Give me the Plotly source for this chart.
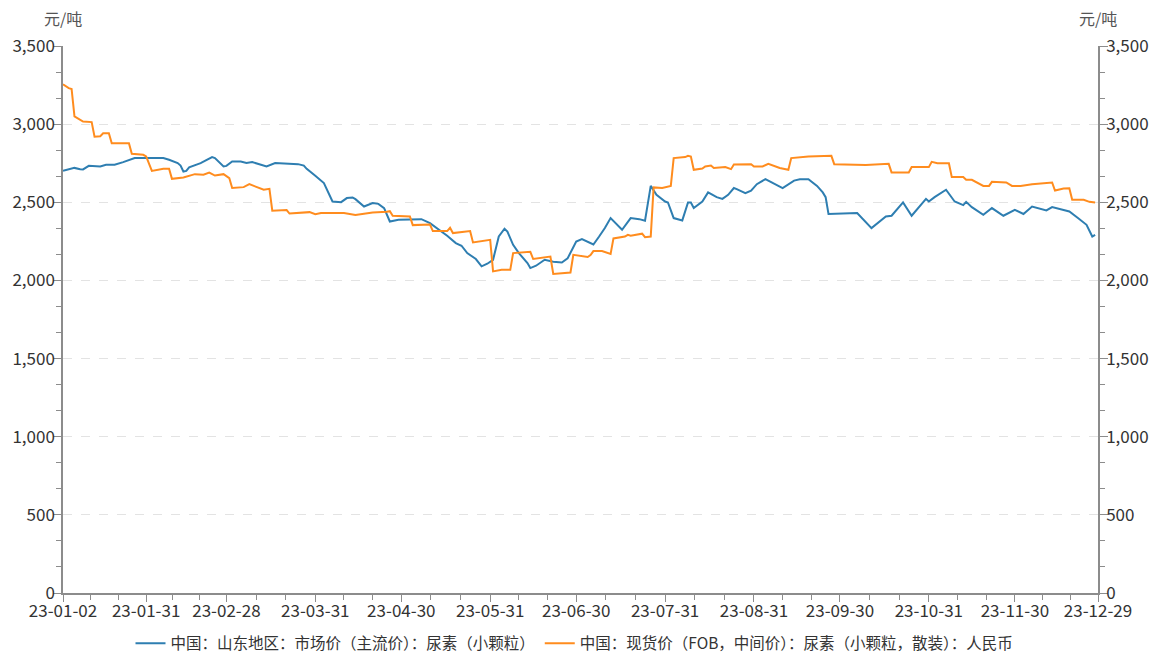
import plotly.graph_objects as go
import pandas as pd

blue_name = "中国：山东地区：市场价（主流价）：尿素（小颗粒）"
orange_name = "中国：现货价（FOB，中间价）：尿素（小颗粒，散装）：人民币"

blue_dates = ["01-02","01-04","01-06","01-08","01-09","01-11","01-15","01-17","01-20","01-23","01-27",
    "02-01","02-06","02-08","02-11","02-12","02-13","02-14","02-15","02-19","02-23","02-24","02-27","02-28",
    "03-02","03-05","03-07","03-09","03-11","03-14","03-17","03-21","03-25","03-27","03-28","03-31",
    "04-03","04-06","04-09","04-11","04-13","04-14","04-17","04-20","04-22","04-24","04-26","04-29",
    "05-03","05-05","05-07","05-10","05-14","05-16","05-19","05-21","05-23","05-26","05-28","05-30",
    "06-01","06-03","06-05","06-06","06-08","06-10","06-13","06-14","06-16","06-19","06-22","06-25","06-27","06-29","06-30",
    "07-02","07-04","07-06","07-08","07-10","07-12","07-14","07-16","07-19","07-22","07-24","07-26","07-28","07-31",
    "08-01","08-03","08-06","08-08","08-09","08-10","08-13","08-15","08-18","08-20","08-22","08-24","08-25","08-28","08-30",
    "09-01","09-04","09-07","09-10","09-14","09-16","09-19","09-22","09-24","09-25","09-26",
    "10-06","10-11","10-16","10-18","10-22","10-25","10-30","10-31",
    "11-02","11-06","11-09","11-12","11-13","11-15","11-19","11-22","11-26","11-30",
    "12-03","12-06","12-11","12-13","12-19","12-22","12-25","12-27","12-28"]
blue_vals = [2701,2712,2720,2712,2710,2733,2729,2740,2740,2757,2783,
    2783,2783,2772,2751,2735,2697,2701,2723,2751,2789,2783,2729,2733,
    2761,2761,2751,2757,2744,2729,2751,2746,2744,2735,2714,2670,
    2623,2505,2501,2527,2531,2520,2473,2495,2490,2463,2377,2388,
    2388,2392,2392,2367,2313,2286,2239,2222,2175,2137,2090,2107,
    2132,2281,2331,2313,2228,2175,2111,2079,2094,2132,2120,2115,2141,2217,2249,
    2265,2249,2230,2281,2335,2399,2363,2324,2399,2392,2382,2605,2548,2505,
    2499,2399,2384,2499,2499,2463,2505,2563,2533,2522,2548,2591,2584,2559,2575,
    2616,2648,2618,2591,2639,2648,2648,2605,2563,2533,2425,
    2431,2335,2409,2414,2499,2414,2522,2505,
    2533,2580,2505,2482,2503,2469,2420,2463,2414,2452,
    2425,2473,2448,2469,2441,2399,2356,2281,2292]

orange_dates = ["01-02","01-04","01-05","01-06","01-09","01-12","01-13","01-15","01-16","01-18","01-19","01-25","01-26","01-30","01-31",
    "02-02","02-06","02-08","02-09","02-13","02-17","02-20","02-22","02-24","02-27",
    "03-01","03-02","03-06","03-08","03-13","03-15","03-16","03-21","03-22","03-29","03-31",
    "04-02","04-10","04-14","04-17","04-20","04-25","04-26","04-27",
    "05-03","05-04","05-10","05-11","05-16","05-17","05-18","05-24","05-25","05-31",
    "06-01","06-04","06-07","06-08","06-14","06-15","06-21","06-22","06-28","06-29",
    "07-02","07-04","07-05","07-06","07-09","07-12","07-13","07-17","07-18","07-19","07-23","07-24","07-26","07-27","07-30",
    "08-02","08-03","08-07","08-08","08-09","08-10","08-13","08-14","08-16","08-17","08-21","08-23","08-24","08-30","08-31",
    "09-03","09-05","09-09","09-12","09-13","09-19","09-27","09-28",
    "10-09","10-17","10-18","10-24","10-25","10-31",
    "11-01","11-03","11-07","11-08","11-12","11-13","11-15","11-19","11-21","11-22","11-27","11-29",
    "12-02","12-06","12-13","12-14","12-17","12-19","12-20","12-24","12-26","12-28"]
orange_vals = [3255,3230,3225,3050,3017,3013,2920,2923,2942,2942,2878,2878,2810,2804,2793,
    2701,2714,2714,2650,2659,2680,2676,2690,2671,2680,
    2655,2591,2597,2616,2580,2586,2446,2450,2428,2437,2424,
    2431,2431,2418,2426,2435,2439,2443,2414,
    2409,2354,2358,2316,2316,2337,2303,2316,2243,2260,
    2058,2068,2068,2175,2183,2137,2153,2041,2051,2164,
    2158,2150,2162,2188,2188,2169,2269,2281,2292,2286,2299,2277,2281,2595,2591,
    2605,2783,2789,2797,2793,2708,2716,2729,2735,2719,2725,2712,2742,2744,2729,
    2729,2746,2719,2708,2783,2793,2797,2744,
    2738,2746,2691,2691,2725,2725,
    2759,2750,2750,2661,2661,2644,2644,2605,2605,2631,2627,2605,
    2605,2616,2627,2575,2588,2590,2516,2516,2503,2499]

major_ticks = ["2023-01-02","2023-01-31","2023-02-28","2023-03-31","2023-04-30","2023-05-31",
               "2023-06-30","2023-07-31","2023-08-31","2023-09-30","2023-10-31","2023-11-30","2023-12-29"]
tick_text = ["23-01-02","23-01-31","23-02-28","23-03-31","23-04-30","23-05-31",
             "23-06-30","23-07-31","23-08-31","23-09-30","23-10-31","23-11-30","23-12-29"]
y_ticks = [0, 500, 1000, 1500, 2000, 2500, 3000, 3500]
unit = "元/吨"

mt = pd.to_datetime(major_ticks)
minor_ticks = []
for a, b in zip(mt[:-1], mt[1:]):
    d = (b - a) / 3
    minor_ticks += [a + d, a + 2 * d]

bx = pd.to_datetime(["2023-" + d for d in blue_dates])
ox = pd.to_datetime(["2023-" + d for d in orange_dates])

BLUE = "#2E7EB1"
ORANGE = "#FF8C1E"
AXC = "#8C8C8C"
TXT = "#333333"
FONT = "Noto Sans CJK SC"

fig = go.Figure()
fig.add_trace(go.Scatter(x=bx, y=blue_vals, mode="lines", name=blue_name,
                         line=dict(color=BLUE, width=2)))
fig.add_trace(go.Scatter(x=ox, y=orange_vals, mode="lines", name=orange_name,
                         line=dict(color=ORANGE, width=2), yaxis="y2"))

yaxis_common = dict(range=[0, 3500], tickvals=y_ticks, tickformat=",",
                    showline=True, linecolor=AXC, linewidth=1.5,
                    ticks="outside", ticklen=8, tickcolor=AXC, tickwidth=1,
                    tickfont=dict(size=17, color=TXT, family=FONT),
                    ticklabelstandoff=-5, automargin=False,
                    zeroline=False,
                    minor=dict(ticks="outside", ticklen=5, tickcolor=AXC, dtick=500/3, tick0=0, showgrid=False))

fig.update_layout(
    width=1149, height=657,
    margin=dict(l=63, r=51, t=46, b=64),
    paper_bgcolor="white", plot_bgcolor="white",
    font=dict(family=FONT, color=TXT),
    showlegend=True,
    legend=dict(orientation="h", xref="container", yref="container", x=0.5, y=0.046,
                xanchor="center", yanchor="top", font=dict(size=15.5, color=TXT, family=FONT),
                itemwidth=30, tracegroupgap=0),
    xaxis=dict(type="date", range=[mt[0], mt[-1]], tickvals=mt, ticktext=tick_text,
               showline=True, linecolor=AXC, linewidth=1.5, ticks="outside", ticklen=7,
               tickcolor=AXC, showgrid=False, zeroline=False, automargin=False,
               ticklabelstandoff=-5,
               tickfont=dict(size=17, color=TXT, family=FONT),
               minor=dict(ticks="outside", ticklen=5, tickcolor=AXC, tickvals=minor_ticks, showgrid=False)),
    yaxis=dict(**yaxis_common, showgrid=True, gridcolor="#E3E3E3", griddash="dash", gridwidth=1),
    yaxis2=dict(**yaxis_common, overlaying="y", side="right", showgrid=False),
    annotations=[
        dict(text=unit, xref="paper", yref="paper", x=0, y=1, xanchor="center", yanchor="bottom",
             yshift=14, showarrow=False, font=dict(size=16, color="#555555", family=FONT)),
        dict(text=unit, xref="paper", yref="paper", x=1, y=1, xanchor="center", yanchor="bottom",
             yshift=14, showarrow=False, font=dict(size=16, color="#555555", family=FONT)),
    ],
)

fig.write_html("out.html", config={"displayModeBar": False},
               post_script="document.body.style.margin='0';document.body.style.overflow='hidden';")
